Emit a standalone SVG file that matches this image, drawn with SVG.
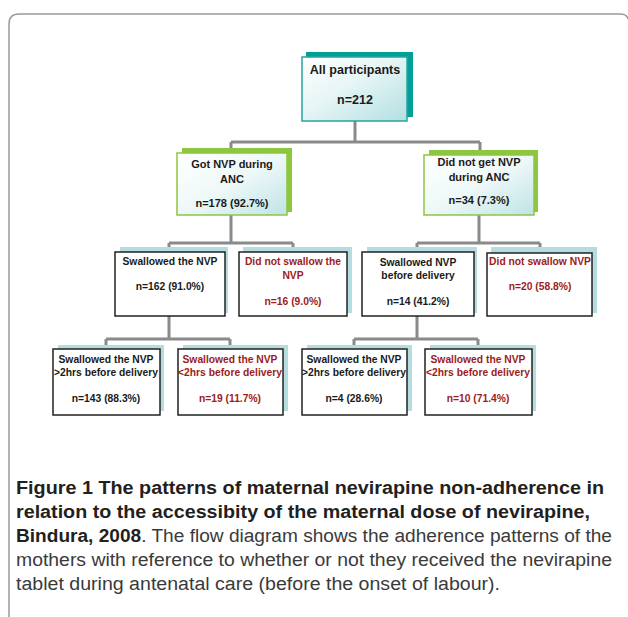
<svg xmlns="http://www.w3.org/2000/svg" width="628" height="617" viewBox="0 0 628 617">
<defs>
<linearGradient id="gTeal" x1="0" y1="0" x2="1" y2="1">
<stop offset="0" stop-color="#ffffff"/>
<stop offset="0.45" stop-color="#e6f5f5"/>
<stop offset="1" stop-color="#b3dfe2"/>
</linearGradient>
<linearGradient id="gGreen" x1="0" y1="0" x2="1" y2="1">
<stop offset="0" stop-color="#ffffff"/>
<stop offset="0.5" stop-color="#eef8f8"/>
<stop offset="1" stop-color="#bfe3e6"/>
</linearGradient>
</defs>
<style>
.t{font-family:"Liberation Sans",Arial,sans-serif;font-weight:bold;text-anchor:middle;fill:#1a1a1a}
.t12{font-size:12.5px}
.t11{font-size:11px}
.t10{font-size:10.3px}
.red{fill:#9e1b1b}
.sh3{fill:#b5dde0}
.box3{fill:#ffffff;stroke:#222;stroke-width:1.5}
.shg{fill:#8dc63f}
.boxg{fill:url(#gGreen);stroke:#8dc63f;stroke-width:1.5}
.conn{fill:none;stroke:#8a8a8a;stroke-width:3}
.cap{font-family:"Liberation Sans",Arial,sans-serif;font-size:18px;fill:#231f20}
.b{font-weight:bold}
.r{fill:#3a3a3a}
</style>
<rect width="628" height="617" fill="#ffffff"/>
<path d="M9 617 L9 24 Q9 14 19 14 L620 14 Q627 14 628 19" fill="none" stroke="#9a9a9a" stroke-width="1.5"/>

<g id="connectors">
<path class="conn" d="M355 121 V142 M231 142 H480 M231 142 V153 M480 142 V155"/>
<path class="conn" d="M231 215 V243 M169 243 H293 M169 243 V252 M293 243 V252"/>
<path class="conn" d="M479 215 V243 M417 243 H540 M417 243 V252 M540 243 V253"/>
<path class="conn" d="M169 316 V339 M106 339 H230 M106 339 V349 M230 339 V349"/>
<path class="conn" d="M417 316 V339 M354 339 H478 M354 339 V349 M478 339 V349"/>
</g>

<g id="all">
<rect x="306" y="52" width="107" height="65" fill="#00a099"/>
<rect x="302" y="57" width="105" height="64" fill="url(#gTeal)" stroke="#2aa39c" stroke-width="1.5"/>
<text class="t t12" x="355" y="74">All participants</text>
<text class="t t12" x="355" y="104">n=212</text>
</g>

<g id="got">
<rect class="shg" x="182" y="148" width="110" height="64"/>
<rect class="boxg" x="177" y="153" width="110" height="62"/>
<text class="t t11" x="232" y="168">Got NVP during</text>
<text class="t t11" x="232" y="183">ANC</text>
<text class="t t11" x="232" y="207">n=178 (92.7%)</text>
</g>

<g id="notgot">
<rect class="shg" x="429" y="150" width="109" height="62"/>
<rect class="boxg" x="424" y="155" width="110" height="60"/>
<text class="t t11" x="479" y="166">Did not get NVP</text>
<text class="t t11" x="479" y="181">during ANC</text>
<text class="t t11" x="479" y="204">n=34 (7.3%)</text>
</g>

<g id="swallowed1">
<rect class="sh3" x="120" y="247" width="108" height="66"/>
<rect class="box3" x="115" y="252" width="110" height="64"/>
<text class="t t10" x="170" y="265">Swallowed the NVP</text>
<text class="t t10" x="170" y="290">n=162 (91.0%)</text>
</g>

<g id="notswallowed1">
<rect class="sh3" x="243" y="247" width="109" height="66"/>
<rect class="box3" x="239" y="252" width="108" height="64"/>
<text class="t t10 red" x="293" y="265">Did not swallow the</text>
<text class="t t10 red" x="293" y="279">NVP</text>
<text class="t t10 red" x="293" y="305">n=16 (9.0%)</text>
</g>

<g id="swallowed2">
<rect class="sh3" x="367" y="247" width="110" height="66"/>
<rect class="box3" x="362" y="252" width="112" height="64"/>
<text class="t t10" x="418" y="266">Swallowed NVP</text>
<text class="t t10" x="418" y="279">before delivery</text>
<text class="t t10" x="418" y="305">n=14 (41.2%)</text>
</g>

<g id="notswallowed2">
<rect class="sh3" x="491" y="247" width="106" height="66"/>
<rect class="box3" x="487" y="253" width="105" height="63"/>
<text class="t t10 red" x="540" y="265">Did not swallow NVP</text>
<text class="t t10 red" x="540" y="290">n=20 (58.8%)</text>
</g>

<g id="gt2a">
<rect class="sh3" x="58" y="345" width="106" height="66"/>
<rect class="box3" x="53" y="349" width="107" height="66"/>
<text class="t t10" x="106" y="363">Swallowed the NVP</text>
<text class="t t10" x="106" y="376">&gt;2hrs before delivery</text>
<text class="t t10" x="106" y="402">n=143 (88.3%)</text>
</g>

<g id="lt2a">
<rect class="sh3" x="183" y="345" width="105" height="66"/>
<rect class="box3" x="178" y="349" width="105" height="66"/>
<text class="t t10 red" x="230" y="363">Swallowed the NVP</text>
<text class="t t10 red" x="230" y="376">&lt;2hrs before delivery</text>
<text class="t t10 red" x="230" y="402">n=19 (11.7%)</text>
</g>

<g id="gt2b">
<rect class="sh3" x="307" y="345" width="105" height="66"/>
<rect class="box3" x="302" y="349" width="105" height="66"/>
<text class="t t10" x="354" y="363">Swallowed the NVP</text>
<text class="t t10" x="354" y="376">&gt;2hrs before delivery</text>
<text class="t t10" x="354" y="402">n=4 (28.6%)</text>
</g>

<g id="lt2b">
<rect class="sh3" x="430" y="345" width="106" height="66"/>
<rect class="box3" x="425" y="349" width="107" height="66"/>
<text class="t t10 red" x="478" y="363">Swallowed the NVP</text>
<text class="t t10 red" x="478" y="376">&lt;2hrs before delivery</text>
<text class="t t10 red" x="478" y="402">n=10 (71.4%)</text>
</g>

<g id="caption">
<text class="cap b" x="16" y="494" textLength="588" lengthAdjust="spacingAndGlyphs">Figure 1 The patterns of maternal nevirapine non-adherence in</text>
<text class="cap b" x="16" y="518" textLength="574" lengthAdjust="spacingAndGlyphs">relation to the accessibity of the maternal dose of nevirapine,</text>
<text class="cap" x="16" y="542" textLength="596" lengthAdjust="spacingAndGlyphs"><tspan class="b">Bindura, 2008</tspan><tspan class="r">. The flow diagram shows the adherence patterns of the</tspan></text>
<text class="cap r" x="16" y="566" textLength="596" lengthAdjust="spacingAndGlyphs">mothers with reference to whether or not they received the nevirapine</text>
<text class="cap r" x="16" y="590" textLength="484" lengthAdjust="spacingAndGlyphs">tablet during antenatal care (before the onset of labour).</text>
</g>
</svg>
